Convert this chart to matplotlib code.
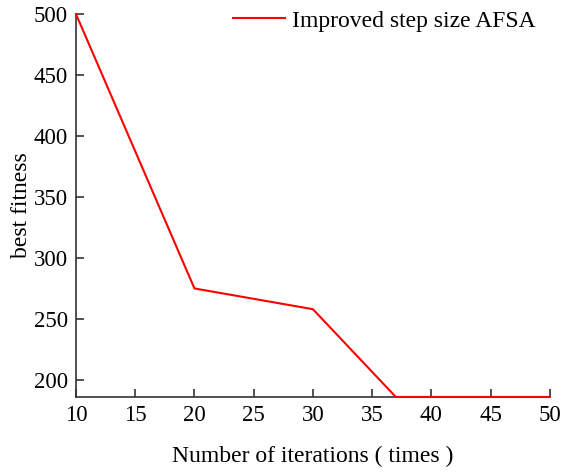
import matplotlib.pyplot as plt

# data
iterations = [10, 20, 30, 37, 50]
best_fitness = [500, 275, 258, 186, 186]
x_ticks = [10, 15, 20, 25, 30, 35, 40, 45, 50]
y_ticks = [200, 250, 300, 350, 400, 450, 500]

plt.rcParams['font.family'] = ['Liberation Serif', 'DejaVu Serif']

fig = plt.figure(figsize=(5.61, 4.72), dpi=100)
ax = fig.add_axes([0.1355, 0.159, 0.8445, 0.811])

ax.plot(iterations, best_fitness, color='#ff0000', linewidth=1.5,
        label='Improved step size AFSA', clip_on=False, zorder=3)

ax.set_xlim(10, 50)
ax.set_ylim(186, 500)
ax.set_xticks(x_ticks)
ax.set_yticks(y_ticks)

for side in ['top', 'right']:
    ax.spines[side].set_visible(False)
for side in ['left', 'bottom']:
    ax.spines[side].set_color('#333333')
    ax.spines[side].set_linewidth(1.2)

ax.tick_params(direction='in', length=6, width=1.2, color='#333333',
               labelsize=16.5, pad=6)

ax.set_xlabel('Number of iterations ( times )', fontsize=17, labelpad=14)
ax.set_ylabel('best fitness', fontsize=17, labelpad=1)

ax.legend(loc='upper right', frameon=False, fontsize=17, handlelength=2.2,
          handletextpad=0.3, borderaxespad=0.0, bbox_to_anchor=(0.99, 1.035))

fig.savefig('out.png', dpi=100)
